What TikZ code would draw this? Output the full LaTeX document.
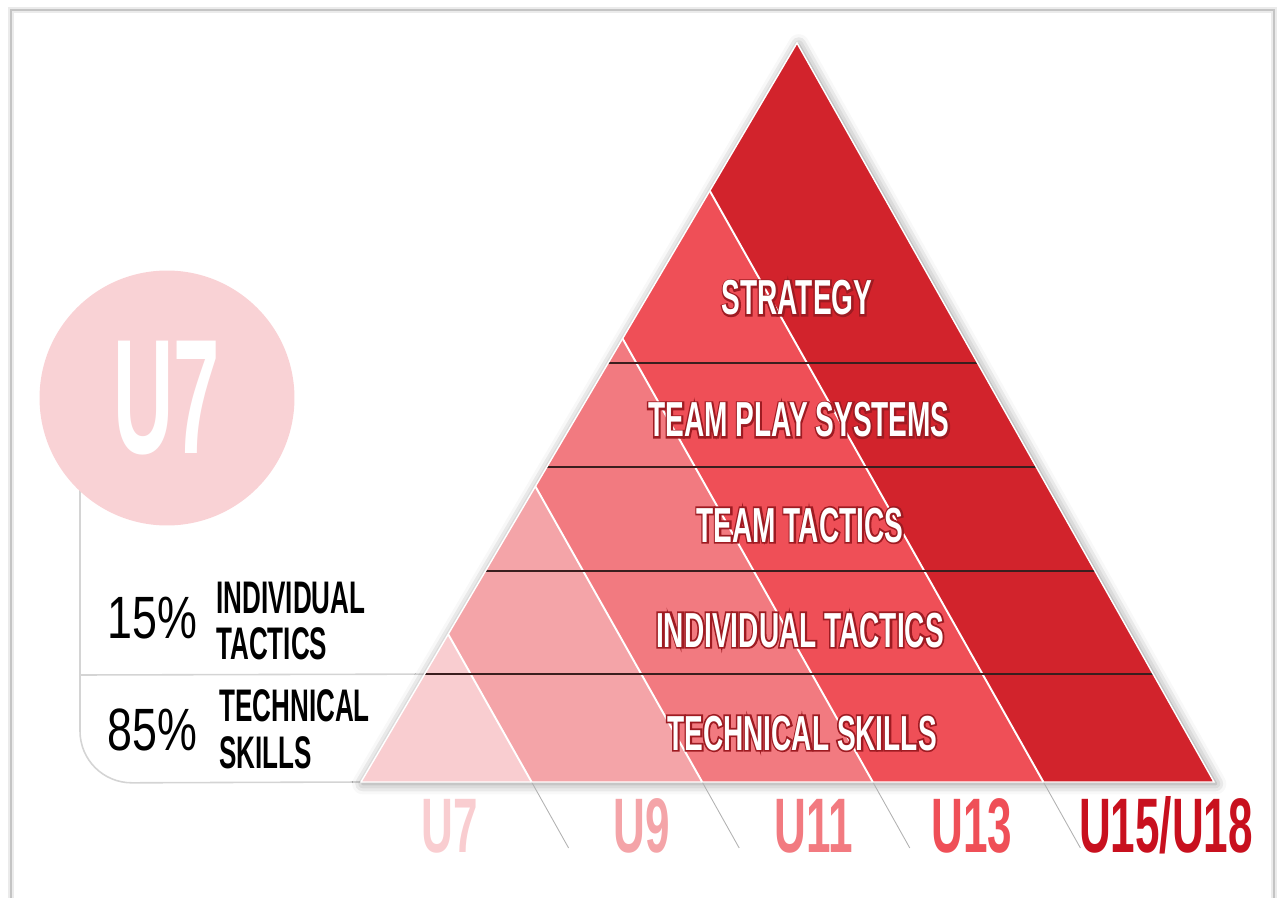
\documentclass[tikz,border=0pt]{standalone}
\usepackage{fontspec}
\usetikzlibrary{calc, shadows.blur}

\setmainfont{Liberation Sans}
\newfontfamily\condfont[FakeStretch=0.57]{Liberation Sans Bold}
\newfontfamily\rimfont[FakeStretch=0.57, FakeBold=7]{Liberation Sans Bold}
\newfontfamily\pctfont[FakeStretch=0.75]{Liberation Sans}
\newfontfamily\badgefont[FakeStretch=0.51]{Liberation Sans Bold}

\definecolor{ageA}{HTML}{F9CDD0}
\definecolor{ageB}{HTML}{F4A4A8}
\definecolor{ageC}{HTML}{F27A80}
\definecolor{ageD}{HTML}{EF4F57}
\definecolor{ageE}{HTML}{D2232C}
\definecolor{ageEtext}{HTML}{C8101E}
\definecolor{badgepink}{HTML}{F9D2D5}
\definecolor{rimred}{HTML}{9E1B22}
\definecolor{rowdark}{HTML}{3A1E1E}
\definecolor{guidegray}{HTML}{D4D4D4}
\definecolor{framegray}{HTML}{C4C4C4}

% white letters sitting on an emboldened dark red copy
\newcommand{\rimtext}[1]{\rlap{\rimfont\color{rimred}#1}#1}

\begin{document}
\begin{tikzpicture}[x=0.02cm, y=-0.02cm,
  divider/.style={white, line width=1.1pt},
  rowline/.style={rowdark, line width=1.3pt},
  tail/.style={black!30, line width=0.5pt},
  guide/.style={guidegray, line width=0.9pt},
  trilabel/.style={font=\condfont\fontsize{28}{30}\selectfont, text=white, anchor=base, inner sep=0pt},
  agelabel/.style={font=\condfont\fontsize{44}{46}\selectfont, anchor=base, inner sep=0pt},
  pctlabel/.style={font=\pctfont\fontsize{34}{36}\selectfont, anchor=base west, inner sep=0pt},
  sidelabel/.style={font=\condfont\fontsize{26}{26.7}\selectfont, align=left, anchor=west, inner sep=0pt},
  badge/.style={circle, fill=badgepink, minimum size=5.1cm, inner sep=0pt, text=white,
    font=\badgefont\fontsize{93}{95}\selectfont}]
\useasboundingbox (0,0) rectangle (1278,898);

% page frame, open at the bottom
\draw[black!8, line width=3pt] (11,898) -- (11,10) -- (1274,10) -- (1274,898);
\draw[framegray, line width=1.1pt] (11,898) -- (11,10) -- (1274,10) -- (1274,898);

% pyramid corners and age splits along the base
\coordinate (apex) at (797,43);
\coordinate (bl) at (361,782);
\coordinate (br) at (1214,782);
\coordinate (b0) at (bl);
\coordinate (t0) at (bl);
\coordinate (b5) at (br);
\coordinate (t5) at (apex);
\foreach \k in {1,...,4} {
  \coordinate (b\k) at ($(bl)!\k/5!(br)$);
  \coordinate (t\k) at ($(bl)!\k/5!(apex)$);
  \coordinate (e\k) at ($(b\k)+(37,66)$);
}

% left bracket with the U7 split
\draw[guide, rounded corners=1.04cm] (80,398) -- (80,783) -- (bl);
\coordinate (gl) at (80,675);
\coordinate (gr) at ($(bl)!0.146!(apex)$);
\draw[guide] (gl) -- (gr);
\node[badge] (badge) at (167,398) {U7};

% age bands
\fill[white, blur shadow={shadow xshift=1pt, shadow yshift=-1pt, shadow blur radius=6pt, shadow opacity=45}]
  (bl) -- (apex) -- (br) -- cycle;
\foreach \p/\k/\c in {0/1/ageA, 1/2/ageB, 2/3/ageC, 3/4/ageD, 4/5/ageE}
  \fill[\c] (b\p) -- (t\p) -- (t\k) -- (b\k) -- cycle;

% band dividers and their tails below the base
\foreach \k in {1,...,4} {
  \draw[divider] (b\k) -- (t\k);
  \draw[tail] (b\k) -- (e\k);
}

% row lines
\foreach \f [count=\i] in {0.146, 0.286, 0.426, 0.567} {
  \coordinate (rl\i) at ($(bl)!\f!(apex)$);
  \coordinate (rr\i) at ($(br)!\f!(apex)$);
  \draw[rowline] (rl\i) -- (rr\i);
}
\draw[white, line width=0.8pt] (bl) -- (apex) -- (br) -- cycle;

% row titles
\node[trilabel] (strategy) at (797,315) {\rimtext{STRATEGY}};
\node[trilabel] (teamplay) at (799,437) {\rimtext{TEAM PLAY SYSTEMS}};
\node[trilabel] (teamtac) at (800,542) {\rimtext{TEAM TACTICS}};
\node[trilabel] (indtac) at (800,647) {\rimtext{INDIVIDUAL TACTICS}};
\node[trilabel] (techsk) at (802,750) {\rimtext{TECHNICAL SKILLS}};

% age groups
\node[agelabel, text=ageA] (u7) at (450,852) {U7};
\node[agelabel, text=ageB] (u9) at (642,852) {U9};
\node[agelabel, text=ageC] (u11) at (814,852) {U11};
\node[agelabel, text=ageD] (u13) at (972,852) {U13};
\node[agelabel, text=ageEtext] (u15) at (1166,852) {U15/U18};

% share of training for U7
\node[pctlabel] (pcttac) at (107,638) {15\%};
\node[sidelabel] (sidetac) at (216,621) {INDIVIDUAL\\TACTICS};
\node[pctlabel] (pcttech) at (107,750) {85\%};
\node[sidelabel] (sidetech) at (219,729) {TECHNICAL\\SKILLS};
\end{tikzpicture}
\end{document}
